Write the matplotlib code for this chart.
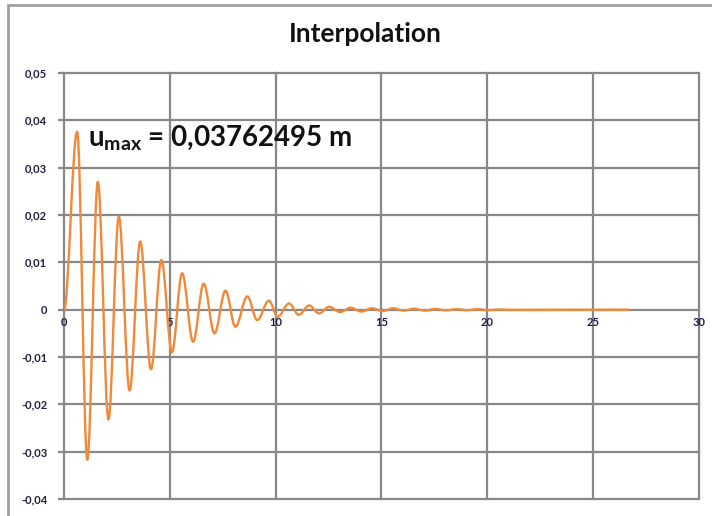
import matplotlib
matplotlib.use("Agg")
from matplotlib import pyplot as plt
from matplotlib.path import Path
from matplotlib.patches import PathPatch, Rectangle
import numpy as np

# extrema of the displacement curve (time [s], u [m])
start_t, start_u = 0.0, 0.0
ext_t = [0.62, 1.10, 1.60, 2.10, 2.59, 3.10, 3.60, 4.11, 4.60, 5.10, 5.58, 6.10, 6.60,
         7.11, 7.63, 8.10, 8.66, 9.13, 9.68, 10.10, 10.63, 11.10, 11.58, 12.05, 12.53,
         13.05, 13.55, 14.05, 14.55, 15.05, 15.55, 16.05, 16.55, 17.05, 17.55, 18.05,
         18.55, 19.05, 19.55, 20.05, 20.55, 21.05]
ext_u = [0.0376, -0.0317, 0.0270, -0.0232, 0.0197, -0.0171, 0.0144, -0.0126, 0.0105,
         -0.0090, 0.0077, -0.0068, 0.0055, -0.0050, 0.0040, -0.0036, 0.0028, -0.0022,
         0.0019, -0.0015, 0.0013, -0.0011, 0.0009, -0.0008, 0.0006,
         -0.0005, 0.0004, -0.0004, 0.0003, -0.0003, 0.0003, -0.0002, 0.0002, -0.0002,
         0.00015, -0.00015, 0.0001, -0.0001, 0.0001, -0.0001, 0.00005, -0.00005]
end_t, end_u = 26.7, 0.0

x_ticks = [0, 5, 10, 15, 20, 25, 30]
y_ticks = [-0.04, -0.03, -0.02, -0.01, 0, 0.01, 0.02, 0.03, 0.04, 0.05]
y_labels = ["-0,04", "-0,03", "-0,02", "-0,01", "0", "0,01", "0,02", "0,03", "0,04", "0,05"]
title = "Interpolation"
u_max_text = "0,03762495 m"

plt.rcParams['font.family'] = ['Lato', 'DejaVu Sans']
plt.rcParams['mathtext.fontset'] = 'custom'
plt.rcParams['mathtext.bf'] = 'Lato:bold'
plt.rcParams['mathtext.rm'] = 'Lato'

grid_color = "#888888"
line_color = "#ef8a3a"

fig = plt.figure(figsize=(7.12, 5.16), dpi=100)
ax = fig.add_axes([0.0899, 0.033, 0.8918, 0.8255])
ax.set_xlim(0, 30)
ax.set_ylim(-0.04, 0.05)

for s in ax.spines.values():
    s.set_visible(False)
for yv in y_ticks:
    ax.axhline(yv, color=grid_color, lw=1.6, clip_on=False, zorder=1)
for xv in x_ticks:
    ax.axvline(xv, color=grid_color, lw=1.6, clip_on=False, zorder=1)

ax.set_yticks(y_ticks)
ax.set_yticklabels(y_labels)
ax.tick_params(axis='y', length=4, width=1.6, color=grid_color, pad=8,
               labelsize=8, labelcolor="#1e2040")
for lab in ax.get_yticklabels():
    lab.set_fontweight('bold')

ax.spines['bottom'].set_position(('data', 0))
ax.set_xticks(x_ticks)
ax.set_xticklabels([str(v) for v in x_ticks])
ax.tick_params(axis='x', length=0, pad=5, labelsize=8, labelcolor="#1e2040")
for lab in ax.get_xticklabels():
    lab.set_fontweight('bold')

# smooth curve: cubic bezier between successive extrema (horizontal tangents)
pts_t = [start_t] + ext_t
pts_u = [start_u] + ext_u
verts = [(pts_t[0], pts_u[0])]
codes = [Path.MOVETO]
k = 0.36
for i in range(len(pts_t) - 1):
    d = pts_t[i + 1] - pts_t[i]
    verts += [(pts_t[i] + k * d, pts_u[i]), (pts_t[i + 1] - k * d, pts_u[i + 1]),
              (pts_t[i + 1], pts_u[i + 1])]
    codes += [Path.CURVE4] * 3
verts.append((end_t, end_u))
codes.append(Path.LINETO)
ax.add_patch(PathPatch(Path(verts, codes), fill=False, edgecolor=line_color,
                       lw=1.7, zorder=3, joinstyle='round', capstyle='round'))

ax.text(1.12, 0.0362, r"$\mathbf{u}_{\mathbf{max}}$ = " + u_max_text, fontsize=20,
        fontweight='bold', va='center', ha='left', color="#111111", zorder=4)

fig.text(0.513, 0.934, title, ha='center', va='center', fontsize=19,
         fontweight='bold', color="#111111")

fig.patches.append(Rectangle((0.0112, -0.2), 1.2, 1.19, transform=fig.transFigure,
                             fill=False, edgecolor="#a0a0a0", lw=2))

fig.savefig("out.png", dpi=100)
